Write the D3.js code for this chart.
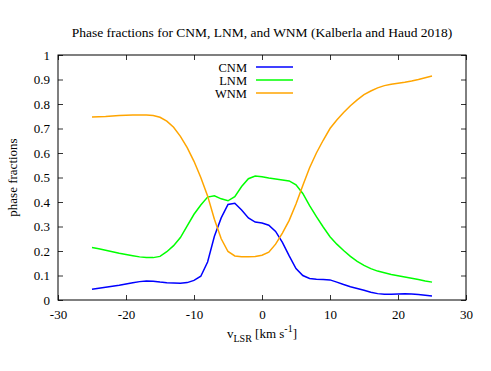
<!DOCTYPE html>
<html>
<head>
<meta charset="utf-8">
<script src="https://cdn.jsdelivr.net/npm/d3@7"></script>
<style>
  body { margin: 0; background: #fff; }
  svg text { font-family: "Liberation Serif", "DejaVu Serif", serif; fill: #000; }
</style>
</head>
<body>
<div id="chart"></div>
<script>
// velocity grid, km/s
const vlsr = d3.range(-25, 26, 1);

const cnm = [0.044, 0.048, 0.052, 0.056, 0.060, 0.065, 0.070, 0.075, 0.078, 0.077,
  0.073, 0.070, 0.069, 0.068, 0.071, 0.080, 0.097, 0.155, 0.260, 0.335,
  0.390, 0.395, 0.367, 0.335, 0.318, 0.314, 0.305, 0.280, 0.235, 0.180,
  0.128, 0.100, 0.088, 0.085, 0.084, 0.082, 0.073, 0.063, 0.054, 0.047,
  0.040, 0.032, 0.026, 0.023, 0.023, 0.024, 0.025, 0.024, 0.022, 0.019, 0.016];

const lnm = [0.214, 0.209, 0.203, 0.197, 0.191, 0.186, 0.181, 0.176, 0.173, 0.173,
  0.178, 0.197, 0.222, 0.255, 0.303, 0.350, 0.388, 0.420, 0.425, 0.413,
  0.405, 0.422, 0.463, 0.495, 0.506, 0.503, 0.498, 0.494, 0.490, 0.486,
  0.470, 0.435, 0.385, 0.340, 0.298, 0.258, 0.228, 0.202, 0.178, 0.158,
  0.141, 0.128, 0.118, 0.111, 0.104, 0.099, 0.094, 0.089, 0.084, 0.078, 0.073];

const wnm = [0.747, 0.748, 0.749, 0.751, 0.753, 0.754, 0.755, 0.755, 0.755, 0.753,
  0.746, 0.730, 0.705, 0.668, 0.622, 0.566, 0.500, 0.425, 0.330, 0.250,
  0.198, 0.180, 0.177, 0.177, 0.178, 0.183, 0.195, 0.228, 0.273, 0.325,
  0.392, 0.467, 0.540, 0.600, 0.652, 0.700, 0.735, 0.765, 0.793, 0.817,
  0.838, 0.853, 0.866, 0.875, 0.881, 0.885, 0.889, 0.894, 0.900, 0.907, 0.914];

const seriesNames = ['CNM', 'LNM', 'WNM'];
const seriesColors = ['#0000ff', '#00ff00', '#ffa500'];
const seriesData = [cnm, lnm, wnm];

const xTicks = [-30, -20, -10, 0, 10, 20, 30];
const yTicks = d3.range(0, 11).map(d => d / 10);

const width = 491, height = 371;
const margin = { left: 58, right: 25, top: 55, bottom: 71 };

const x = d3.scaleLinear().domain([-30, 30]).range([margin.left, width - margin.right]);
const y = d3.scaleLinear().domain([0, 1]).range([height - margin.bottom, margin.top]);

const svg = d3.select('#chart').append('svg')
  .attr('width', width)
  .attr('height', height);

const fontSize = 13;
const serif = '"Liberation Serif", "DejaVu Serif", serif';

// axes, ticks inward on all sides
const axes = [
  svg.append('g')
    .attr('transform', 'translate(0,' + y(0) + ')')
    .call(d3.axisBottom(x).tickValues(xTicks).tickSize(-5).tickPadding(10).tickFormat(d => String(d))),
  svg.append('g')
    .attr('transform', 'translate(0,' + y(1) + ')')
    .call(d3.axisTop(x).tickValues(xTicks).tickSize(-5).tickFormat('')),
  svg.append('g')
    .attr('transform', 'translate(' + x(-30) + ',0)')
    .call(d3.axisLeft(y).tickValues(yTicks).tickSize(-5).tickPadding(8).tickFormat(d => d === 0 || d === 1 ? String(d) : d.toFixed(1))),
  svg.append('g')
    .attr('transform', 'translate(' + x(30) + ',0)')
    .call(d3.axisRight(y).tickValues(yTicks).tickSize(-5).tickFormat(''))
];
axes.forEach(g => g.attr('font-family', serif).attr('font-size', fontSize));

svg.selectAll('.domain').remove();
svg.selectAll('.tick line').attr('stroke', '#000').attr('stroke-width', 0.8);
svg.selectAll('.tick text').attr('fill', '#000');

svg.append('rect')
  .attr('x', x(-30)).attr('y', y(1))
  .attr('width', x(30) - x(-30)).attr('height', y(0) - y(1))
  .attr('fill', 'none').attr('stroke', '#000').attr('stroke-width', 1);

// curves
const line = d3.line()
  .x((d, i) => x(vlsr[i]))
  .y(d => y(d));

seriesData.forEach((s, k) => {
  svg.append('path')
    .datum(s)
    .attr('d', line)
    .attr('fill', 'none')
    .attr('stroke', seriesColors[k])
    .attr('stroke-width', 1.5);
});

// legend
const legend = svg.append('g');
seriesNames.forEach((name, k) => {
  const ly = 67 + k * 13;
  legend.append('text')
    .attr('x', 247).attr('y', ly + 4.5)
    .attr('text-anchor', 'end')
    .style('font-size', '12.5px')
    .text(name);
  legend.append('line')
    .attr('x1', 256).attr('x2', 293)
    .attr('y1', ly).attr('y2', ly)
    .attr('stroke', seriesColors[k])
    .attr('stroke-width', 1.5);
});

// title
svg.append('text')
  .attr('x', (x(-30) + x(30)) / 2).attr('y', 37)
  .attr('text-anchor', 'middle')
  .style('font-size', '13.5px')
  .text('Phase fractions for CNM, LNM, and WNM (Kalberla and Haud 2018)');

// axis labels
svg.append('text')
  .attr('transform', 'translate(17,' + (y(0.5)) + ') rotate(-90)')
  .attr('text-anchor', 'middle')
  .style('font-size', fontSize + 'px')
  .text('phase fractions');

const xl = svg.append('text')
  .attr('x', (x(-30) + x(30)) / 2).attr('y', 338)
  .attr('text-anchor', 'middle')
  .style('font-size', fontSize + 'px');
xl.append('tspan').text('v');
xl.append('tspan').attr('dy', 4).style('font-size', '10px').text('LSR');
xl.append('tspan').attr('dy', -4).text(' [km s');
xl.append('tspan').attr('dy', -6).style('font-size', '10px').text('-1');
xl.append('tspan').attr('dy', 6).text(']');
</script>
</body>
</html>
